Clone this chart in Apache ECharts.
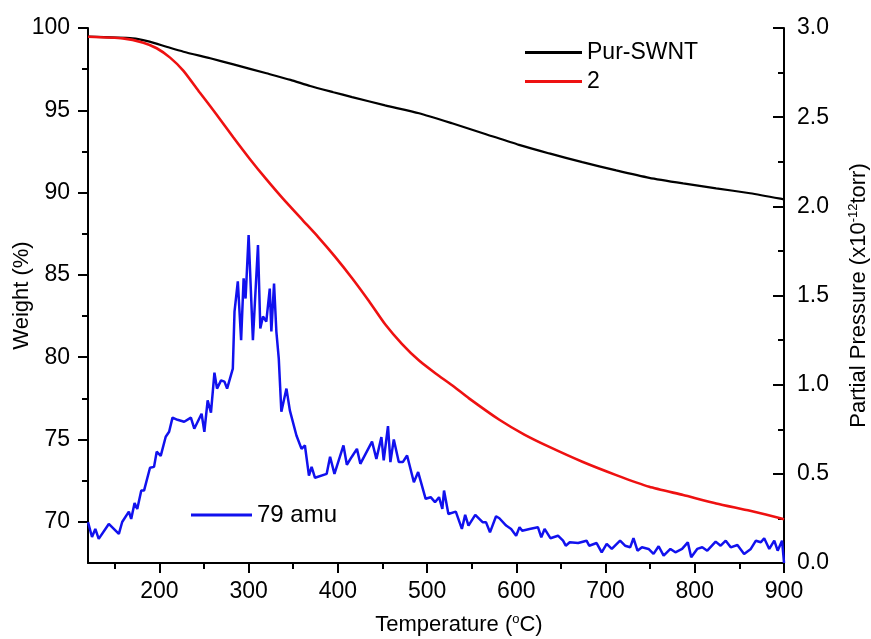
<!DOCTYPE html>
<html><head><meta charset="utf-8">
<script src="https://cdn.jsdelivr.net/npm/echarts@6/dist/echarts.min.js"></script>
<style>html,body{margin:0;padding:0;background:#fff}#c{width:871px;height:639px}</style>
</head><body><div id="c"></div>
<script>
// ---- data ----
const swntTemp = [120,170,189,208,227,257,283,320,347,369,395,416,453,491,528,566,603,637,674,712,749,787,824,862,896,900];
const swntWeight = [99.47,99.37,99.17,98.86,98.56,98.16,97.79,97.25,96.85,96.48,96.10,95.80,95.30,94.82,94.21,93.55,92.90,92.38,91.85,91.35,90.90,90.56,90.26,89.96,89.63,89.58];

const s2Temp = [120,159,182,197,212,227,245,264,283,302,320,339,361,378,397,416,435,453,472,491,510,528,547,581,609,637,674,712,749,787,824,862,897,900];
const s2Weight = [99.47,99.37,99.11,98.77,98.20,97.40,96.10,94.75,93.35,92.00,90.80,89.60,88.30,87.30,86.10,84.80,83.40,82.00,80.80,79.80,79.00,78.30,77.50,76.20,75.30,74.55,73.65,72.84,72.13,71.63,71.12,70.67,70.21,70.15];

const msTemp = [120,124.5,128.2,132,143.3,154.6,158.3,165.8,168.4,172.2,175.2,179.7,182.8,189.5,194,197,201.5,207.1,210.9,214.7,220.3,227.8,235.3,239.1,247.3,250.4,254.1,257.8,261.7,264.6,269.1,272.9,275.9,282.3,284.2,287.9,291.6,294.4,296.6,300,304.8,310.5,313.1,316.1,319.8,323.7,325.5,328.5,331.1,333.8,336.7,342.4,346.2,353.6,359.3,363.1,367.6,370.6,374.4,387.5,391.3,396.2,406.3,410.1,415.7,421.4,425.2,438.3,443.2,448.8,451.4,456.2,458.9,462.7,468.3,472.8,477.6,485.2,490,498.4,504,508.9,513.4,517.1,519,523.9,532.2,539,542.7,546.4,554,562.2,566,570.5,577.3,581,588.6,594.2,599.8,603.6,606.6,614.8,624.2,628,631.7,638.2,646.7,652.4,655.4,659.9,669.3,678.7,681.7,690,695.7,701.3,707,716.3,721.9,727.6,731.3,735.8,740.8,748.2,753.8,759.5,765.1,772.7,778.3,785.8,792.2,796,802.7,808.4,814,823.4,829,834.7,840.3,847.8,855.3,862.8,868.5,874.1,877.8,883.5,889.1,892.9,897.8,899.7,900];
const msPressure = [0.229,0.146,0.191,0.135,0.219,0.163,0.230,0.288,0.247,0.337,0.303,0.406,0.406,0.534,0.539,0.624,0.601,0.708,0.736,0.815,0.803,0.792,0.815,0.753,0.837,0.736,0.912,0.843,1.067,0.978,1.024,1.017,0.978,1.090,1.410,1.579,1.249,1.596,1.483,1.839,1.249,1.783,1.315,1.382,1.354,1.539,1.298,1.567,1.298,1.146,0.848,0.978,0.856,0.715,0.640,0.659,0.490,0.539,0.478,0.500,0.596,0.500,0.659,0.551,0.596,0.640,0.556,0.681,0.584,0.706,0.575,0.768,0.566,0.693,0.566,0.566,0.603,0.453,0.510,0.360,0.369,0.341,0.369,0.303,0.406,0.275,0.288,0.191,0.270,0.210,0.270,0.229,0.229,0.172,0.262,0.251,0.210,0.191,0.153,0.201,0.181,0.191,0.201,0.144,0.191,0.139,0.153,0.125,0.097,0.116,0.112,0.125,0.097,0.112,0.060,0.107,0.079,0.125,0.097,0.088,0.139,0.069,0.088,0.079,0.051,0.094,0.041,0.079,0.060,0.079,0.116,0.032,0.079,0.088,0.069,0.120,0.097,0.125,0.088,0.101,0.051,0.079,0.125,0.116,0.139,0.079,0.125,0.069,0.125,0.022,0.0];

const tempTicks = [200,300,400,500,600,700,800,900];
const tempMinorTicks = [150,250,350,450,550,650,750,850];
const weightTicks = [70,75,80,85,90,95,100];
const weightMinorTicks = [72.5,77.5,82.5,87.5,92.5,97.5];

// ---- chart ----
const FONT = "'Liberation Sans', Arial, sans-serif";
const txt = {color:'#000', fontFamily: FONT, fontSize: 23};
const axLine = {show:true, onZero:false, lineStyle:{color:'#000', width:2}};
const zip = (a,b)=>a.map((v,i)=>[v,b[i]]);
const supStyle = {s:{fontSize:13, verticalAlign:'top', padding:[0,0,11,0], fontFamily:FONT, color:'#000'}};

const chart = echarts.init(document.getElementById('c'), null, {renderer:'canvas'});
chart.setOption({
  animation:false,
  backgroundColor:'#fff',
  grid:{left:88, right:87, top:28, bottom:76, containLabel:false, outerBoundsMode:'none'},
  legend:[
    {data:['Pur-SWNT','2'], orient:'vertical', left:525, top:41, padding:0, itemWidth:57, itemHeight:3, itemGap:6,
     icon:'rect', selectedMode:false, textStyle:{color:'#000', fontFamily:FONT, fontSize:23}},
    {data:['79 amu'], orient:'vertical', left:191, top:503, padding:0, itemWidth:61, itemHeight:3,
     icon:'rect', selectedMode:false, textStyle:{color:'#000', fontFamily:FONT, fontSize:24}}
  ],
  xAxis:[
    {type:'value', min:120, max:900, position:'bottom',
     name:'Temperature ({s|o}C)', nameLocation:'middle', nameGap:50, nameMoveOverlap:false,
     nameTextStyle:{color:'#000', fontFamily:FONT, fontSize:22, padding:[0,0,0,46], rich:supStyle},
     axisLine:axLine, splitLine:{show:false},
     axisTick:{show:true, customValues:tempTicks, length:10, lineStyle:{color:'#000', width:2}},
     axisLabel:Object.assign({customValues:tempTicks, margin:17}, txt)},
    {type:'value', min:120, max:900, position:'bottom',
     axisLine:{show:false, onZero:false}, splitLine:{show:false}, axisLabel:{show:false},
     axisTick:{show:true, customValues:tempMinorTicks, length:6, lineStyle:{color:'#000', width:2}}}
  ],
  yAxis:[
    {type:'value', min:67.5, max:100, position:'left',
     name:'Weight (%)', nameLocation:'middle', nameGap:55, nameMoveOverlap:false,
     nameTextStyle:{color:'#000', fontFamily:FONT, fontSize:22},
     axisLine:axLine, splitLine:{show:false},
     axisTick:{show:true, customValues:weightTicks, length:10, lineStyle:{color:'#000', width:2}},
     axisLabel:Object.assign({customValues:weightTicks, margin:18}, txt)},
    {type:'value', min:67.5, max:100, position:'left',
     axisLine:{show:false, onZero:false}, splitLine:{show:false}, axisLabel:{show:false},
     axisTick:{show:true, customValues:weightMinorTicks, length:6, lineStyle:{color:'#000', width:2}}},
    {type:'value', min:0, max:3, interval:0.5, position:'right',
     name:'Partial Pressure (x10{s|-12}torr)', nameLocation:'middle', nameGap:63, nameMoveOverlap:false,
     nameTextStyle:{color:'#000', fontFamily:FONT, fontSize:22, rich:supStyle},
     axisLine:axLine, splitLine:{show:false},
     axisTick:{show:true, inside:true, length:11, lineStyle:{color:'#000', width:2}},
     minorTick:{show:true, splitNumber:2, length:6, lineStyle:{color:'#000', width:2}},
     axisLabel:Object.assign({margin:13, formatter:v=>v.toFixed(1)}, txt)}
  ],
  series:[
    {name:'Pur-SWNT', type:'line', xAxisIndex:0, yAxisIndex:0, data:zip(swntTemp, swntWeight),
     showSymbol:false, smooth:0.2, color:'#000', lineStyle:{width:2.2, color:'#000'}},
    {name:'2', type:'line', xAxisIndex:0, yAxisIndex:0, data:zip(s2Temp, s2Weight),
     showSymbol:false, smooth:0.2, color:'#ee1111', lineStyle:{width:2.6, color:'#ee1111'}},
    {name:'79 amu', type:'line', xAxisIndex:0, yAxisIndex:2, data:zip(msTemp, msPressure),
     showSymbol:false, color:'#1111ee', lineStyle:{width:2.5, color:'#1111ee'}}
  ]
});
</script></body></html>
